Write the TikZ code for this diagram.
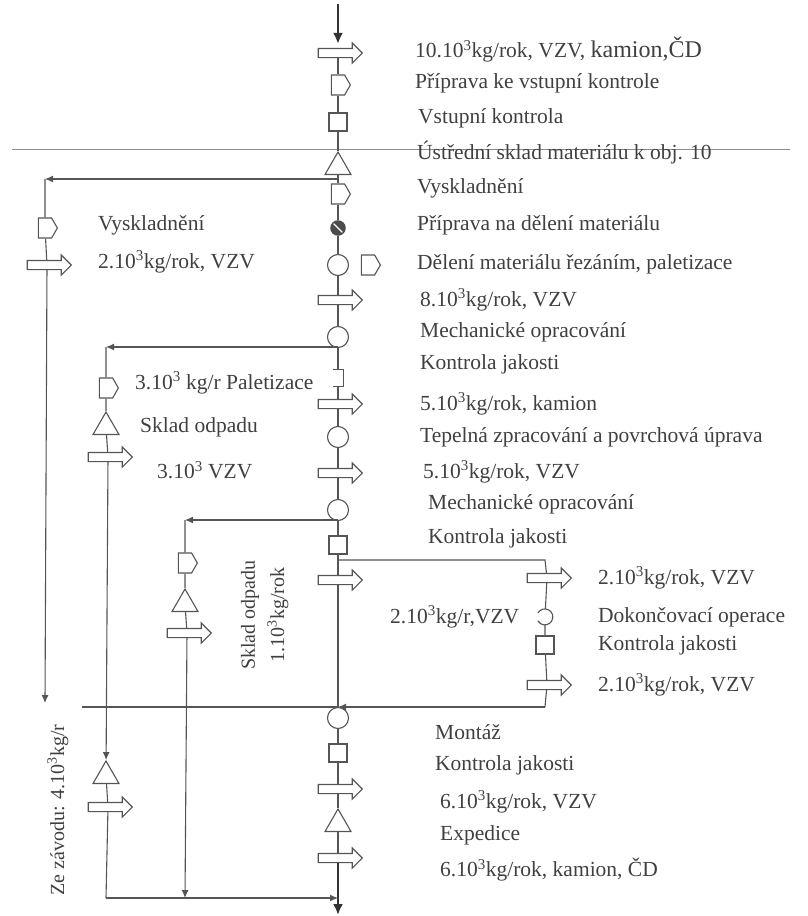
\documentclass[tikz,border=0pt]{standalone}
\usepackage{fontspec}
\setmainfont{Liberation Serif}
\usetikzlibrary{shapes.geometric,shapes.symbols,shapes.arrows,arrows.meta,positioning}
\definecolor{ink}{HTML}{555555}
\definecolor{txt}{HTML}{404040}
\tikzset{
  link/.style={draw=ink,line width=1.1pt},
  flow/.style={link,-{Latex[length=8pt,width=7pt]}},
  heavy/.style={draw=black!80,line width=2.6pt,-{Latex[length=11pt,width=10pt]}},
  opn/.style={circle,draw=ink,line width=1.1pt,fill=white,minimum size=21pt,inner sep=0pt},
  prepn/.style={signal,signal to=east,signal pointer angle=120,draw=ink,line width=1.1pt,fill=white,minimum width=19pt,minimum height=20pt,inner sep=0pt},
  ctrl/.style={rectangle,draw=ink,line width=1.1pt,fill=white,minimum size=18pt,inner sep=0pt},
  stor/.style={regular polygon,regular polygon sides=3,draw=ink,line width=1.1pt,fill=white,minimum size=30pt,inner sep=0pt},
  move/.style={single arrow,draw=ink,line width=1.1pt,fill=white,minimum height=44pt,inner xsep=0pt,inner ysep=4pt,single arrow head extend=5.5pt},
  cut/.style={circle,draw=black!70,fill=black!70,line width=1.5pt,minimum size=14pt,inner sep=0pt,
    path picture={\draw[white,line width=1.3pt] (path picture bounding box.north west) -- (path picture bounding box.south east);}},
  finish/.style={circle,minimum size=16pt,inner sep=0pt},
  part/.style={rectangle,minimum width=10pt,minimum height=16pt,inner sep=0pt},
  lbl/.style={anchor=west,inner sep=0pt,text=txt,font=\fontsize{21.5}{24}\selectfont},
  vlbl/.style={lbl,anchor=center,rotate=90,font=\fontsize{20}{22}\selectfont}
}
\begin{document}
\begin{tikzpicture}[x=1pt,y=-1pt]
\useasboundingbox (0,0) rectangle (808,916);

% separators
\coordinate (s0) at (12,149);
\coordinate (s1) at (790,149);
\draw[draw=black!45,line width=0.8pt] (s0) -- (s1);

% main line
\coordinate (m0) at (338,4);
\node[move] (m1) at (338,53) {};
\node[prepn] (m2) at (338,85) {};
\node[ctrl] (m3) at (338,122) {};
\node[stor] (m4) at (338,167) {};
\coordinate (m5) at (338,179);
\node[prepn] (m6) at (338,194) {};
\node[cut] (m7) at (338,228) {};
\node[opn] (m8) at (338,265) {};
\node[prepn] (m8b) at (368,265) {};
\node[move] (m9) at (338,300) {};
\node[opn] (m10) at (338,337) {};
\coordinate (m11) at (338,347);
\node[part] (m12) at (338,378) {};
\node[move] (m13) at (338,404) {};
\node[opn] (m14) at (338,437) {};
\node[move] (m15) at (338,473) {};
\node[opn] (m16) at (338,510) {};
\coordinate (m17) at (338,520);
\node[ctrl] (m18) at (338,545) {};
\coordinate (m19) at (338,560);
\node[move] (m20) at (338,580) {};
\coordinate (m21) at (338,707);
\node[opn] (m22) at (338,718) {};
\node[ctrl] (m23) at (338,753) {};
\node[move] (m24) at (338,789) {};
\node[stor] (m25) at (338,824) {};
\node[move] (m26) at (338,858) {};
\coordinate (m27) at (338,898);
\coordinate (m28) at (338,915);

\draw[heavy,shorten >=4pt] (m0) -- (m1);
\draw[link] (m1) -- (m2) -- (m3) -- (m4) -- (m5) -- (m6) -- (m7) -- (m8) -- (m9) -- (m10) -- (m11) -- (m12);
\draw[link] (m12.north west) -- (m12.north east) -- (m12.south east) -- (m12.south west);
\draw[link] (m12) -- (m13) -- (m14) -- (m15) -- (m16) -- (m17) -- (m18) -- (m19) -- (m20) -- (m21) -- (m22) -- (m23) -- (m24) -- (m25) -- (m26);
\draw[heavy] (m26) -- (m28);

% left branch, Vyskladneni
\coordinate (a0) at (45,179);
\node[prepn] (a1) at (45,228) {};
\node[move] (a2) at (47,265) {};
\coordinate (a3) at (45,703);
\draw[flow] (m5) -- (a0);
\draw[link] (a0) -- (a1) -- (a2);
\draw[flow] (a2) -- (a3);

% left branch, Paletizace
\coordinate (b0) at (106,347);
\node[prepn] (b1) at (106,388) {};
\node[stor] (b2) at (106,427) {};
\node[move] (b3) at (108,457) {};
\node[stor] (b4) at (106,776) {};
\node[move] (b5) at (108,807) {};
\coordinate (b6) at (106,898);
\draw[flow] (m11) -- (b0);
\draw[link] (b0) -- (b1) -- (b2) -- (b3);
\draw[flow] (b3) -- (b4);
\draw[link] (b4) -- (b5) -- (b6);
\draw[flow] (b6) -- (m27);

% left branch, Sklad odpadu
\coordinate (c0) at (185,520);
\node[prepn] (c1) at (185,563) {};
\node[stor] (c2) at (185,604) {};
\node[move] (c3) at (187,633) {};
\coordinate (c4) at (185,898);
\draw[flow] (m17) -- (c0);
\draw[link] (c0) -- (c1) -- (c2) -- (c3);
\draw[flow] (c3) -- (c4);

% right branch, Dokoncovaci operace
\coordinate (r0) at (545,560);
\node[move] (r1) at (547,578) {};
\node[finish] (r2) at (545,617) {};
\node[ctrl] (r3) at (545,645) {};
\node[move] (r4) at (547,685) {};
\coordinate (r5) at (545,707);
\coordinate (e0) at (82,707);
\draw[link] (m19) -- (r0) -- (r1) -- (r2);
\draw[link] (r2.150) arc[start angle=150,end angle=-150,radius=8pt];
\draw[link] (r2) -- (r3) -- (r4) -- (r5);
\draw[flow] (r5) -- (m21);
\draw[link] (m21) -- (e0);

% texts
\node[lbl] (t1) at (415,50) {10.10\textsuperscript{3}kg/rok, VZV, {\fontsize{24}{26}\selectfont kamion,ČD}};
\node[lbl] (t2) at (415,83) {Příprava ke vstupní kontrole};
\node[lbl] (t3) at (418,118) {Vstupní kontrola};
\node[lbl] (t4) at (417,153) {Ústřední sklad materiálu k obj. 10};
\node[lbl] (t5) at (417,188) {Vyskladnění};
\node[lbl] (t6) at (417,225) {Příprava na dělení materiálu};
\node[lbl] (t7) at (417,264) {Dělení materiálu řezáním, paletizace};
\node[lbl] (t8) at (420,300) {8.10\textsuperscript{3}kg/rok, VZV};
\node[lbl] (t9) at (420,332) {Mechanické opracování};
\node[lbl] (t10) at (420,364) {Kontrola jakosti};
\node[lbl] (t11) at (420,404) {5.10\textsuperscript{3}kg/rok, kamion};
\node[lbl] (t12) at (420,437) {Tepelná zpracování a povrchová úprava};
\node[lbl] (t13) at (423,472) {5.10\textsuperscript{3}kg/rok, VZV};
\node[lbl] (t14) at (428,504) {Mechanické opracování};
\node[lbl] (t15) at (428,538) {Kontrola jakosti};
\node[lbl] (t16) at (598,578) {2.10\textsuperscript{3}kg/rok, VZV};
\node[lbl] (t17) at (598,617) {Dokončovací operace};
\node[lbl] (t18) at (598,645) {Kontrola jakosti};
\node[lbl] (t19) at (598,685) {2.10\textsuperscript{3}kg/rok, VZV};
\node[lbl] (t20) at (390,617) {2.10\textsuperscript{3}kg/r,VZV};
\node[lbl] (t21) at (435,732) {Montáž};
\node[lbl] (t22) at (435,765) {Kontrola jakosti};
\node[lbl] (t23) at (440,802) {6.10\textsuperscript{3}kg/rok, VZV};
\node[lbl] (t24) at (440,835) {Expedice};
\node[lbl] (t25) at (440,870) {6.10\textsuperscript{3}kg/rok, kamion, ČD};
\node[lbl] (u1) at (98,225) {Vyskladnění};
\node[lbl] (u2) at (98,262) {2.10\textsuperscript{3}kg/rok, VZV};
\node[lbl] (u3) at (135,383) {3.10\textsuperscript{3} kg/r Paletizace};
\node[lbl] (u4) at (140,427) {Sklad odpadu};
\node[lbl] (u5) at (157,470) {3.10\textsuperscript{3} VZV};
\node[vlbl] (v1) at (250,615) {Sklad odpadu};
\node[vlbl] (v2) at (278,615) {1.10\textsuperscript{3}kg/rok};
\node[vlbl] (v3) at (58,810) {Ze závodu: 4.10\textsuperscript{3}kg/r};
\end{tikzpicture}
\end{document}
